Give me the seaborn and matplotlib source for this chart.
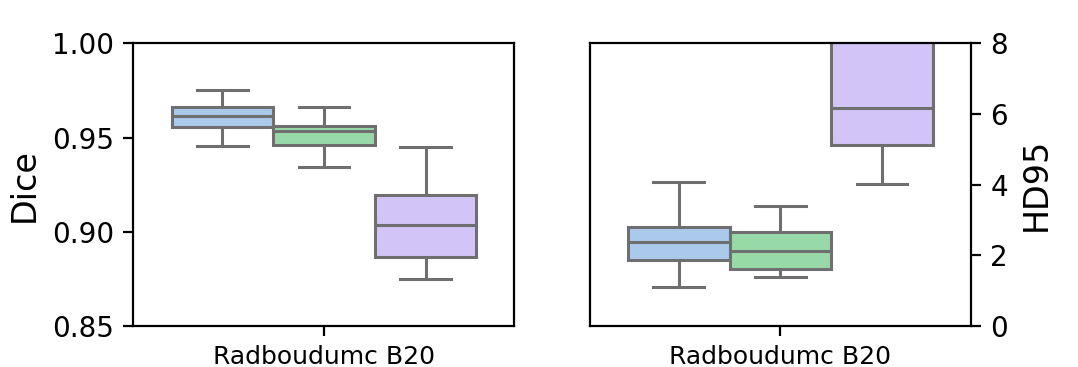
import numpy as np
import pandas as pd
import seaborn as sns
from matplotlib import pyplot as plt

# five-number values: min, q1, median, q3, max
site = 'Radboudumc B20'
methods = ['Method A', 'Method B', 'Method C']
dice_vals = {
    'Method A': [0.9457, 0.9558, 0.9612, 0.9665, 0.9755],
    'Method B': [0.9346, 0.9463, 0.9537, 0.9564, 0.9665],
    'Method C': [0.8750, 0.8867, 0.9037, 0.9197, 0.9452],
}
hd95_vals = {
    'Method A': [1.11, 1.87, 2.38, 2.81, 4.08],
    'Method B': [1.39, 1.62, 2.13, 2.67, 3.40],
    'Method C': [4.03, 5.11, 6.18, 9.50, 12.0],
}
pal = sns.color_palette('pastel')
colors = [pal[0], pal[2], pal[4]]


def long_form(vals, col):
    rows = []
    for m in methods:
        for v in vals[m]:
            rows.append({'site': site, 'method': m, col: v})
    return pd.DataFrame(rows)


df_dice = long_form(dice_vals, 'Dice')
df_hd = long_form(hd95_vals, 'HD95')

fig = plt.figure(figsize=(5.39, 1.835), dpi=200)
ax1 = fig.add_axes([0.1238, 0.1125, 0.3534, 0.769])
ax2 = fig.add_axes([0.5473, 0.1125, 0.3534, 0.769])

sns.boxplot(data=df_dice, x='site', y='Dice', hue='method', palette=colors,
            ax=ax1, legend=False, showfliers=False, linewidth=1.1)
ax1.set_ylim(0.85, 1.0)
ax1.set_yticks([0.85, 0.90, 0.95, 1.00])
ax1.set_xlabel('')
ax1.set_ylabel('Dice', fontsize=12)
ax1.tick_params(axis='y', labelsize=10)
ax1.tick_params(axis='x', labelsize=9)

sns.boxplot(data=df_hd, x='site', y='HD95', hue='method', palette=colors,
            ax=ax2, legend=False, showfliers=False, linewidth=1.1)
ax2.set_ylim(0, 8)
ax2.set_yticks([0, 2, 4, 6, 8])
ax2.set_xlabel('')
ax2.yaxis.tick_right()
ax2.yaxis.set_label_position('right')
ax2.set_ylabel('HD95', fontsize=12)
ax2.tick_params(axis='y', labelsize=10)
ax2.tick_params(axis='x', labelsize=9)

fig.savefig('out.png', dpi=200)
